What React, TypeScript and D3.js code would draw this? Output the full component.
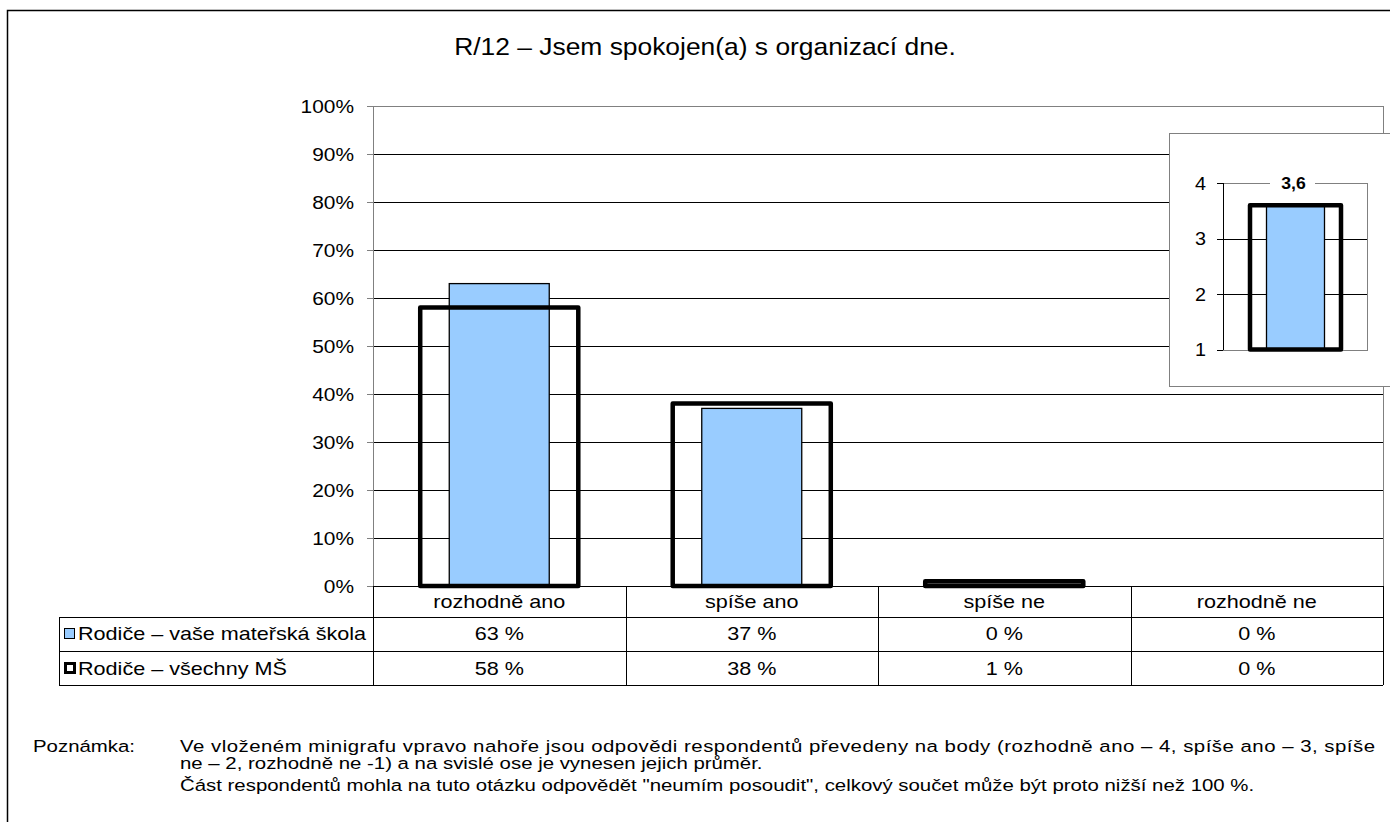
import React from "react";
import * as d3 from "d3";

const title = "R/12 – Jsem spokojen(a) s organizací dne.";
const categories = ["rozhodně ano", "spíše ano", "spíše ne", "rozhodně ne"];
const seriesNames = ["Rodiče – vaše mateřská škola", "Rodiče – všechny MŠ"];
const schoolValues = [63, 37, 0, 0];
const allValues = [58, 38, 1, 0];
const yTicks = [0, 10, 20, 30, 40, 50, 60, 70, 80, 90, 100];
const insetTicks = [1, 2, 3, 4];
const insetSchool = 3.6;
const insetAll = 3.6;
const insetLabel = "3,6";
const noteLabel = "Poznámka:";
const noteLines = [
  "Ve vloženém minigrafu vpravo nahoře jsou odpovědi respondentů převedeny na body (rozhodně ano – 4, spíše ano – 3, spíše",
  "ne – 2, rozhodně ne -1) a na svislé ose je vynesen jejich průměr.",
  "Část respondentů mohla na tuto otázku odpovědět \"neumím posoudit\", celkový součet může být proto nižší než 100 %.",
];

const FONT = "'Liberation Sans', Arial, sans-serif";
const BLUE = "#99CCFF";
const GRAY = "#808080";

function T({ x, y, size, anchor = "start", weight = "normal", sx = 1.2, length, children }: any) {
  return (
    <text
      transform={`translate(${x},${y}) scale(${sx},1)`}
      fontSize={size}
      textAnchor={anchor}
      fontWeight={weight}
      fontFamily={FONT}
      fill="#000"
      textLength={length}
      lengthAdjust={length ? "spacing" : undefined}
    >
      {children}
    </text>
  );
}

export default function App() {
  const W = 1390, H = 822;
  const left = 373, right = 1383, top = 106, bottom = 586;
  const x = d3.scaleBand<string>().domain(categories).range([left, right]).padding(0);
  const y = d3.scaleLinear().domain([0, 100]).range([bottom, top]);
  const bw = x.bandwidth();
  const innerW = bw * 0.396;
  const outerW = bw * 0.626;

  const rowTop = [bottom, 617, 651, 685];
  const tableLeft = 59;

  // inset
  const ix0 = 1223, ix1 = 1367;
  const iy = d3.scaleLinear().domain([1, 4]).range([349.5, 183]);
  const icx = 1295.5;
  const iOuterW = 91, iInnerW = 58;

  const noteSX = 1.2;

  return (
    <svg width={W} height={H} style={{ position: "absolute", left: 0, top: 0 }}>
      <rect x={0} y={0} width={W} height={H} fill="#fff" />
      <rect x={7.5} y={10.5} width={1420} height={840} fill="none" stroke="#000" strokeWidth={1.5} />

      <T x={705} y={55} size={24} sx={1.1} anchor="middle">{title}</T>

      {/* gridlines */}
      {yTicks.map((t) => (
        <line key={"g" + t} x1={left} x2={right} y1={Math.round(y(t)) + 0.5} y2={Math.round(y(t)) + 0.5}
          stroke={t === 100 ? GRAY : "#000"} strokeWidth={1} shapeRendering="crispEdges" />
      ))}
      <line x1={right + 0.5} x2={right + 0.5} y1={top} y2={bottom} stroke={GRAY} shapeRendering="crispEdges" />
      {/* y axis */}
      <line x1={left + 0.5} x2={left + 0.5} y1={top} y2={bottom} stroke={GRAY} shapeRendering="crispEdges" />
      {yTicks.map((t) => (
        <g key={"t" + t}>
          <line x1={367} x2={left} y1={Math.round(y(t)) + 0.5} y2={Math.round(y(t)) + 0.5} stroke={GRAY} shapeRendering="crispEdges" />
          <T x={354} y={y(t) + 7} size={19} sx={1.1} anchor="end">{t + "%"}</T>
        </g>
      ))}

      {/* bars */}
      {categories.map((c, i) => {
        const cx = (x(c) as number) + bw / 2;
        const v = schoolValues[i];
        if (v <= 0) return null;
        return (
          <rect key={"b" + c} x={cx - innerW / 2} y={y(v)} width={innerW} height={y(0) - y(v)}
            fill={BLUE} stroke="#000" strokeWidth={1.3} />
        );
      })}
      {categories.map((c, i) => {
        const cx = (x(c) as number) + bw / 2;
        const v = allValues[i];
        if (v <= 0) return null;
        return (
          <rect key={"o" + c} x={cx - outerW / 2} y={y(v)} width={outerW} height={y(0) - y(v)}
            fill="none" stroke="#000" strokeWidth={4.5} strokeLinejoin="round" />
        );
      })}

      {/* data table */}
      {rowTop.slice(1).map((ry) => (
        <line key={"r" + ry} x1={tableLeft} x2={right} y1={ry + 0.5} y2={ry + 0.5} stroke="#000" shapeRendering="crispEdges" />
      ))}
      <line x1={tableLeft + 0.5} x2={tableLeft + 0.5} y1={rowTop[1]} y2={rowTop[3]} stroke="#000" shapeRendering="crispEdges" />
      {categories.map((c) => (
        <line key={"v" + c} x1={Math.round(x(c) as number) + 0.5} x2={Math.round(x(c) as number) + 0.5}
          y1={bottom} y2={rowTop[3]} stroke="#000" shapeRendering="crispEdges" />
      ))}
      <line x1={right + 0.5} x2={right + 0.5} y1={bottom} y2={rowTop[3]} stroke="#000" shapeRendering="crispEdges" />
      {categories.map((c, i) => {
        const cx = (x(c) as number) + bw / 2;
        return (
          <g key={"tx" + c}>
            <T x={cx} y={608} size={18} anchor="middle">{c}</T>
            <T x={cx} y={640} size={18} anchor="middle">{schoolValues[i] + " %"}</T>
            <T x={cx} y={675} size={18} anchor="middle">{allValues[i] + " %"}</T>
          </g>
        );
      })}
      <rect x={64.5} y={628.5} width={10} height={10} fill={BLUE} stroke="#000" strokeWidth={1} />
      <rect x={65.5} y={663.5} width={9} height={9} fill="#fff" stroke="#000" strokeWidth={3} />
      <T x={78} y={640} size={18}>{seriesNames[0]}</T>
      <T x={78} y={675} size={18}>{seriesNames[1]}</T>

      {/* inset */}
      <rect x={1169.5} y={133.5} width={230} height={253} fill="#fff" stroke={GRAY} strokeWidth={1} />
      <rect x={ix0 + 0.5} y={Math.round(iy(4)) + 0.5} width={ix1 - ix0} height={Math.round(iy(1)) - Math.round(iy(4))}
        fill="none" stroke={GRAY} shapeRendering="crispEdges" />
      {insetTicks.map((t) => (
        <g key={"it" + t}>
          {t !== 1 && t !== 4 && (
            <line x1={ix0} x2={ix1} y1={Math.round(iy(t)) + 0.5} y2={Math.round(iy(t)) + 0.5} stroke="#000" shapeRendering="crispEdges" />
          )}
          <line x1={1217} x2={ix0} y1={Math.round(iy(t)) + 0.5} y2={Math.round(iy(t)) + 0.5} stroke="#000" shapeRendering="crispEdges" />
          <T x={1206} y={iy(t) + 6.5} size={18} sx={1.1} anchor="end">{String(t)}</T>
        </g>
      ))}
      <line x1={ix0 + 0.5} x2={ix0 + 0.5} y1={iy(4)} y2={iy(1)} stroke="#000" shapeRendering="crispEdges" />
      <rect x={icx - iInnerW / 2} y={iy(insetSchool)} width={iInnerW} height={iy(1) - iy(insetSchool)}
        fill={BLUE} stroke="#000" strokeWidth={1.3} />
      <rect x={icx - iOuterW / 2} y={iy(insetAll)} width={iOuterW} height={iy(1) - iy(insetAll)}
        fill="none" stroke="#000" strokeWidth={4.5} strokeLinejoin="round" />
      <rect x={1270} y={iy(4) - 9} width={45} height={18} fill="#fff" />
      <T x={icx - 2} y={iy(4) + 6} size={16} sx={1.1} anchor="middle" weight="bold">{insetLabel}</T>

      {/* notes */}
      <T x={33} y={752} size={17} sx={noteSX}>{noteLabel}</T>
      <T x={180} y={752} size={17} sx={noteSX} length={1195 / noteSX}>{noteLines[0]}</T>
      <T x={180} y={769} size={17} sx={noteSX}>{noteLines[1]}</T>
      <T x={180} y={791} size={17} sx={noteSX}>{noteLines[2]}</T>
    </svg>
  );
}
